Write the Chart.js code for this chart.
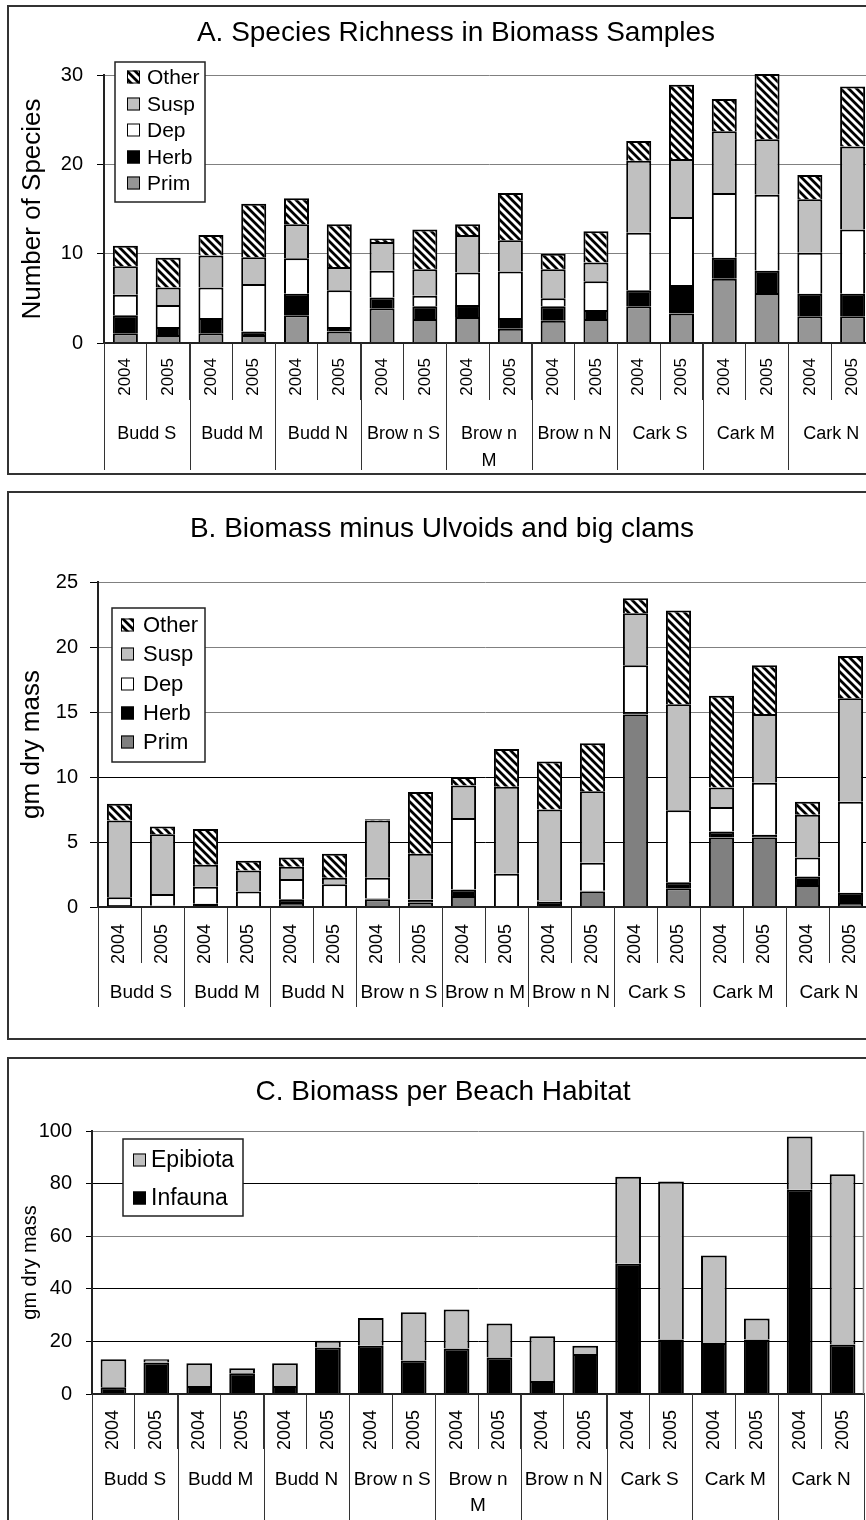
<!DOCTYPE html>
<html><head><meta charset="utf-8">
<script src="https://cdn.jsdelivr.net/npm/chart.js@4.4.1/dist/chart.umd.min.js"></script>
<style>
html,body{margin:0;padding:0;background:#fff;}
body{width:866px;height:1520px;overflow:hidden;position:relative;}
.box{position:absolute;box-sizing:border-box;border:2px solid #333;}
canvas{position:absolute;left:0;}
</style></head><body>
<div class="box" style="left:7px;top:5px;width:940px;height:470px"></div>
<div class="box" style="left:7px;top:491px;width:940px;height:549px"></div>
<div class="box" style="left:7px;top:1057px;width:940px;height:600px"></div>
<canvas id="cA" width="900" height="480" style="top:0px"></canvas>
<canvas id="cB" width="900" height="560" style="top:480px"></canvas>
<canvas id="cC" width="900" height="480" style="top:1040px"></canvas>
<script>
// ---------- data ----------
const years = ['2004', '2005'];
const sites = ['Budd S', 'Budd M', 'Budd N', 'Brow n S', 'Brow n M', 'Brow n N', 'Cark S', 'Cark M', 'Cark N'];
const yearLabels = sites.flatMap(() => years);

// A. Species richness (number of species)
const primA  = [1.1, 0.9, 1.1, 0.9, 3.1, 1.3, 3.9, 2.7, 2.9, 1.6, 2.5, 2.7, 4.1, 3.3, 7.2, 5.6, 3.0, 3.0];
const herbA  = [2.0, 0.9, 1.7, 0.4, 2.4, 0.5, 1.2, 1.4, 1.35, 1.2, 1.6, 1.0, 1.8, 3.2, 2.35, 2.5, 2.5, 2.5];
const depA   = [2.3, 2.45, 3.4, 5.3, 4.0, 4.1, 3.0, 1.2, 3.65, 5.2, 0.9, 3.2, 6.45, 7.6, 7.25, 8.5, 4.6, 7.2];
const suspA  = [3.2, 1.95, 3.6, 3.0, 3.8, 2.6, 3.2, 2.95, 4.2, 3.5, 3.25, 2.1, 8.05, 6.5, 6.9, 6.2, 6.0, 9.3];
const otherA = [2.3, 3.35, 2.3, 6.0, 2.9, 4.8, 0.4, 4.45, 1.2, 5.3, 1.75, 3.5, 2.2, 8.3, 3.6, 7.3, 2.7, 6.7];
const yTicksA = [0, 10, 20, 30];

// B. Biomass minus Ulvoids and big clams (gm dry mass)
const primB  = [0.05, 0.05, 0.05, 0.02, 0.3, 0.02, 0.6, 0.35, 0.85, 0.02, 0.05, 1.2, 14.8, 1.45, 5.35, 5.35, 1.7, 0.3];
const herbB  = [0.1, 0.05, 0.2, 0.02, 0.3, 0.02, 0.05, 0.2, 0.5, 0.03, 0.35, 0.05, 0.2, 0.45, 0.45, 0.2, 0.65, 0.8];
const depB   = [0.6, 0.9, 1.3, 1.16, 1.55, 1.71, 1.6, 0.05, 5.5, 2.5, 0.1, 2.15, 3.6, 5.55, 1.9, 4.0, 1.45, 7.0];
const suspB  = [5.9, 4.6, 1.7, 1.6, 0.95, 0.5, 4.4, 3.5, 2.5, 6.7, 7.0, 5.5, 4.0, 8.15, 1.5, 5.3, 3.3, 7.95];
const otherB = [1.3, 0.6, 2.75, 0.75, 0.7, 1.85, 0.1, 4.75, 0.65, 2.9, 3.7, 3.7, 1.15, 7.2, 7.05, 3.75, 1.0, 3.25];
const yTicksB = [0, 5, 10, 15, 20, 25];

// C. Biomass per beach habitat (gm dry mass)
const infaunaC  = [2.55, 12.0, 3.05, 7.9, 3.05, 17.7, 18.35, 12.7, 17.3, 13.9, 4.9, 15.2, 49.5, 20.7, 19.4, 20.7, 77.7, 18.8];
const epibiotaC = [10.7, 1.25, 8.65, 1.9, 8.65, 2.5, 10.55, 18.4, 14.8, 12.9, 17.1, 3.1, 33.1, 60.1, 33.3, 8.0, 20.2, 64.8];
const yTicksC = [0, 20, 40, 60, 80, 100];

// ---------- styling ----------
const FONT = "'Liberation Sans', Arial, Helvetica, sans-serif";
Chart.defaults.font.family = FONT;
Chart.defaults.color = '#000';

function hatchPattern(canvasId) {
  const c = document.createElement('canvas');
  c.width = c.height = 8;
  const g = c.getContext('2d');
  g.fillStyle = '#fff'; g.fillRect(0, 0, 8, 8);
  g.strokeStyle = '#000'; g.lineWidth = 2.8; g.lineCap = 'square';
  g.beginPath();
  g.moveTo(-2, -2); g.lineTo(10, 10);
  g.moveTo(6, -2); g.lineTo(10, 2);
  g.moveTo(-2, 6); g.lineTo(2, 10);
  g.stroke();
  return document.getElementById(canvasId).getContext('2d').createPattern(c, 'repeat');
}

const titlePlugin = {
  id: 'panelTitle',
  afterDraw(chart, a, o) {
    const g = chart.ctx; g.save();
    g.font = o.size + 'px ' + FONT; g.fillStyle = '#000';
    g.textAlign = 'center'; g.textBaseline = 'alphabetic';
    g.fillText(o.text, o.x, o.y);
    g.restore();
  }
};

const legendPlugin = {
  id: 'boxLegend',
  afterDraw(chart, a, o) {
    const g = chart.ctx; g.save();
    g.fillStyle = '#fff'; g.fillRect(o.x, o.y, o.w, o.h);
    g.lineWidth = 1.5; g.strokeStyle = '#222'; g.strokeRect(o.x, o.y, o.w, o.h);
    const ds = chart.data.datasets.slice().reverse();
    g.font = o.size + 'px ' + FONT; g.textBaseline = 'middle'; g.textAlign = 'left';
    ds.forEach((d, i) => {
      const cy = o.rows[i], s = o.sw;
      g.fillStyle = d.backgroundColor; g.fillRect(o.sx, cy - s / 2, s, s);
      g.lineWidth = 1; g.strokeStyle = '#000'; g.strokeRect(o.sx + 0.5, cy - s / 2 + 0.5, s - 1, s - 1);
      g.fillStyle = '#000'; g.fillText(d.label, o.tx, cy + 1);
    });
    g.restore();
  }
};

const groupPlugin = {
  id: 'groupAxis',
  afterDraw(chart, a, o) {
    const g = chart.ctx, x = chart.scales.x, ca = chart.chartArea, n = chart.data.labels.length;
    const bound = i => i <= 0 ? ca.left : i >= n ? ca.right : (x.getPixelForValue(i - 1) + x.getPixelForValue(i)) / 2;
    g.save(); g.strokeStyle = '#333'; g.lineWidth = 1;
    for (let k = 0; k <= n; k += 2) {
      const bx = Math.round(bound(k)) + 0.5;
      g.beginPath(); g.moveTo(bx, ca.bottom); g.lineTo(bx, o.lineEnd); g.stroke();
    }
    g.fillStyle = '#000'; g.font = o.size + 'px ' + FONT; g.textAlign = 'center'; g.textBaseline = 'alphabetic';
    sites.forEach((lab, j) => {
      const cx = (x.getPixelForValue(2 * j) + x.getPixelForValue(2 * j + 1)) / 2;
      const sp = lab.lastIndexOf(' ');
      const lines = o.wrap.includes(lab) ? [lab.slice(0, sp), lab.slice(sp + 1)] : [lab];
      lines.forEach((t, m) => g.fillText(t, cx, o.baseline + m * o.gap));
    });
    g.restore();
  }
};

const borderPlugin = {
  id: 'plotBorder',
  afterDraw(chart, a, o) {
    if (!o.show) return;
    const g = chart.ctx, ca = chart.chartArea;
    g.save(); g.strokeStyle = '#808080'; g.lineWidth = 1.5;
    g.beginPath(); g.moveTo(Math.round(ca.right) - 0.5, ca.top); g.lineTo(Math.round(ca.right) - 0.5, ca.bottom); g.stroke();
    g.restore();
  }
};

function makePanel(cfg) {
  const ctx = document.getElementById(cfg.id).getContext('2d');
  return new Chart(ctx, {
    type: 'bar',
    data: {
      labels: yearLabels,
      datasets: cfg.series.map(d => ({
        label: d.label, data: d.data, backgroundColor: d.color,
        borderColor: '#000', borderWidth: 2,
        barPercentage: cfg.barPct, categoryPercentage: 1, clip: false
      }))
    },
    options: {
      responsive: false, animation: false, devicePixelRatio: 1,
      layout: { padding: cfg.padding },
      events: [],
      plugins: {
        legend: { display: false }, tooltip: { enabled: false },
        panelTitle: cfg.title,
        boxLegend: cfg.legend,
        groupAxis: cfg.group,
        plotBorder: { show: !!cfg.rightBorder }
      },
      scales: {
        x: {
          stacked: true, offset: true,
          afterFit: s => { s.height = cfg.xH; },
          grid: { display: true, drawOnChartArea: false, drawTicks: true, tickLength: cfg.tickLen, tickColor: '#333', offset: true, lineWidth: 1 },
          border: { display: true, color: '#222', width: 2, z: 1 },
          ticks: { autoSkip: false, maxRotation: 90, minRotation: 90, padding: cfg.xPad, font: { size: cfg.yearFont }, color: '#000' }
        },
        y: {
          stacked: true, min: 0, max: cfg.yTicks[cfg.yTicks.length - 1],
          afterFit: s => { s.width = cfg.yW; },
          afterBuildTicks: s => { s.ticks = cfg.yTicks.map(v => ({ value: v })); },
          grid: { color: c => (c.tick && cfg.blackGrid.includes(c.tick.value)) ? '#000' : '#808080', tickColor: '#000', tickLength: cfg.yTickLen, lineWidth: 1 },
          border: { display: true, color: '#222', width: 2, z: 1 },
          ticks: { padding: cfg.yPad, font: { size: 20 }, color: '#000' },
          title: { display: true, text: cfg.yTitle, font: { size: cfg.yTitleSize }, color: '#000', padding: { top: cfg.yTitlePad, bottom: 0 } }
        }
      }
    },
    plugins: [titlePlugin, groupPlugin, legendPlugin, borderPlugin]
  });
}

const hatchA = hatchPattern('cA'), hatchB = hatchPattern('cB');

makePanel({
  id: 'cA',
  series: [
    { label: 'Prim', data: primA, color: '#969696' },
    { label: 'Herb', data: herbA, color: '#000000' },
    { label: 'Dep', data: depA, color: '#ffffff' },
    { label: 'Susp', data: suspA, color: '#c0c0c0' },
    { label: 'Other', data: otherA, color: hatchA }
  ],
  barPct: 0.585, padding: { top: 75, right: 26, bottom: 0, left: 0 },
  xH: 137, yW: 104, tickLen: 57, xPad: -42, yearFont: 17,
  yTicks: yTicksA, blackGrid: [], yTickLen: 7, yPad: 14,
  yTitle: 'Number of Species', yTitleSize: 26, yTitlePad: 17,
  title: { text: 'A. Species Richness in Biomass Samples', x: 456, y: 41, size: 28 },
  legend: { x: 115, y: 62, w: 90, h: 140, rows: [77, 104, 130, 157, 183], sx: 127, sw: 13, tx: 147, size: 21 },
  group: { lineEnd: 470, baseline: 439, gap: 27, size: 18, wrap: ['Brow n M'] }
});

makePanel({
  id: 'cB',
  series: [
    { label: 'Prim', data: primB, color: '#808080' },
    { label: 'Herb', data: herbB, color: '#000000' },
    { label: 'Dep', data: depB, color: '#ffffff' },
    { label: 'Susp', data: suspB, color: '#c0c0c0' },
    { label: 'Other', data: otherB, color: hatchB }
  ],
  barPct: 0.585, padding: { top: 102, right: 28, bottom: 0, left: 0 },
  xH: 133, yW: 98, tickLen: 56, xPad: -39, yearFont: 18,
  yTicks: yTicksB, blackGrid: [5, 10], yTickLen: 8, yPad: 12,
  yTitle: 'gm dry mass', yTitleSize: 26, yTitlePad: 16,
  title: { text: 'B. Biomass minus Ulvoids and big clams', x: 442, y: 57, size: 28 },
  legend: { x: 112, y: 128, w: 93, h: 154, rows: [145, 174, 204, 233, 262], sx: 121, sw: 13, tx: 143, size: 22 },
  group: { lineEnd: 527, baseline: 518, gap: 27, size: 19, wrap: [] }
});

makePanel({
  id: 'cC',
  series: [
    { label: 'Infauna', data: infaunaC, color: '#000000' },
    { label: 'Epibiota', data: epibiotaC, color: '#c0c0c0' }
  ],
  barPct: 0.6, padding: { top: 91, right: 36, bottom: 0, left: 0 },
  xH: 126, yW: 92, tickLen: 55, xPad: -39, yearFont: 18,
  yTicks: yTicksC, blackGrid: [20, 40, 80], yTickLen: 6, yPad: 14,
  yTitle: 'gm dry mass', yTitleSize: 20, yTitlePad: 18,
  title: { text: 'C. Biomass per Beach Habitat', x: 443, y: 60, size: 28 },
  legend: { x: 123, y: 99, w: 120, h: 77, rows: [120, 158], sx: 133, sw: 13, tx: 151, size: 23 },
  group: { lineEnd: 600, baseline: 445, gap: 26, size: 19, wrap: ['Brow n M'] },
  rightBorder: true
});
</script>
</body></html>
